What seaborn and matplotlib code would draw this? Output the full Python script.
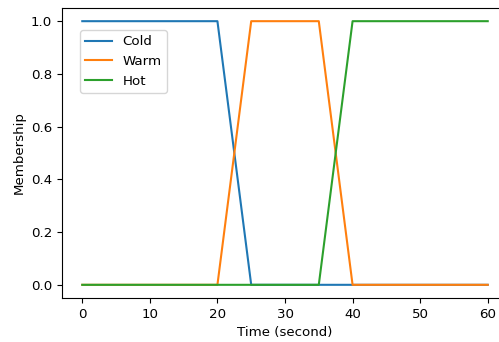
import matplotlib
matplotlib.use("Agg")
import matplotlib.pyplot as plt
import seaborn as sns
import pandas as pd

time_points = [0, 20, 25, 35, 40, 60]
cold = [1.0, 1.0, 0.0, 0.0, 0.0, 0.0]
warm = [0.0, 0.0, 1.0, 1.0, 0.0, 0.0]
hot = [0.0, 0.0, 0.0, 0.0, 1.0, 1.0]
labels = ["Cold", "Warm", "Hot"]

rows = []
for name, vals in zip(labels, [cold, warm, hot]):
    for t, v in zip(time_points, vals):
        rows.append({"Time": t, "Membership": v, "Set": name})
df = pd.DataFrame(rows)

plt.rcParams['font.family'] = ['DejaVu Sans']
plt.rcParams['font.size'] = 9.6

fig = plt.figure(figsize=(4.99, 3.42), dpi=100)
ax = fig.add_axes([62/499, 44/342, 446/499, 290/342])
sns.lineplot(data=df, x="Time", y="Membership", hue="Set",
             palette=["#1f77b4", "#ff7f0e", "#2ca02c"], ax=ax,
             estimator=None, sort=False, linewidth=1.5)
ax.spines['right'].set_visible(False)
ax.set_xlim(-3, 63)
ax.set_ylim(-0.05, 1.05)
ax.set_xticks([0, 10, 20, 30, 40, 50, 60])
ax.set_yticks([0.0, 0.2, 0.4, 0.6, 0.8, 1.0])
ax.set_yticklabels(["0.0", "0.2", "0.4", "0.6", "0.8", "1.0"])
ax.set_xlabel("Time (second)")
ax.set_ylabel("Membership")
ax.legend(title=None, loc="upper left", bbox_to_anchor=(80/499, 1 - 30/342),
          bbox_transform=fig.transFigure, borderaxespad=0, fontsize=9.6)
fig.savefig("out.png", dpi=100)
